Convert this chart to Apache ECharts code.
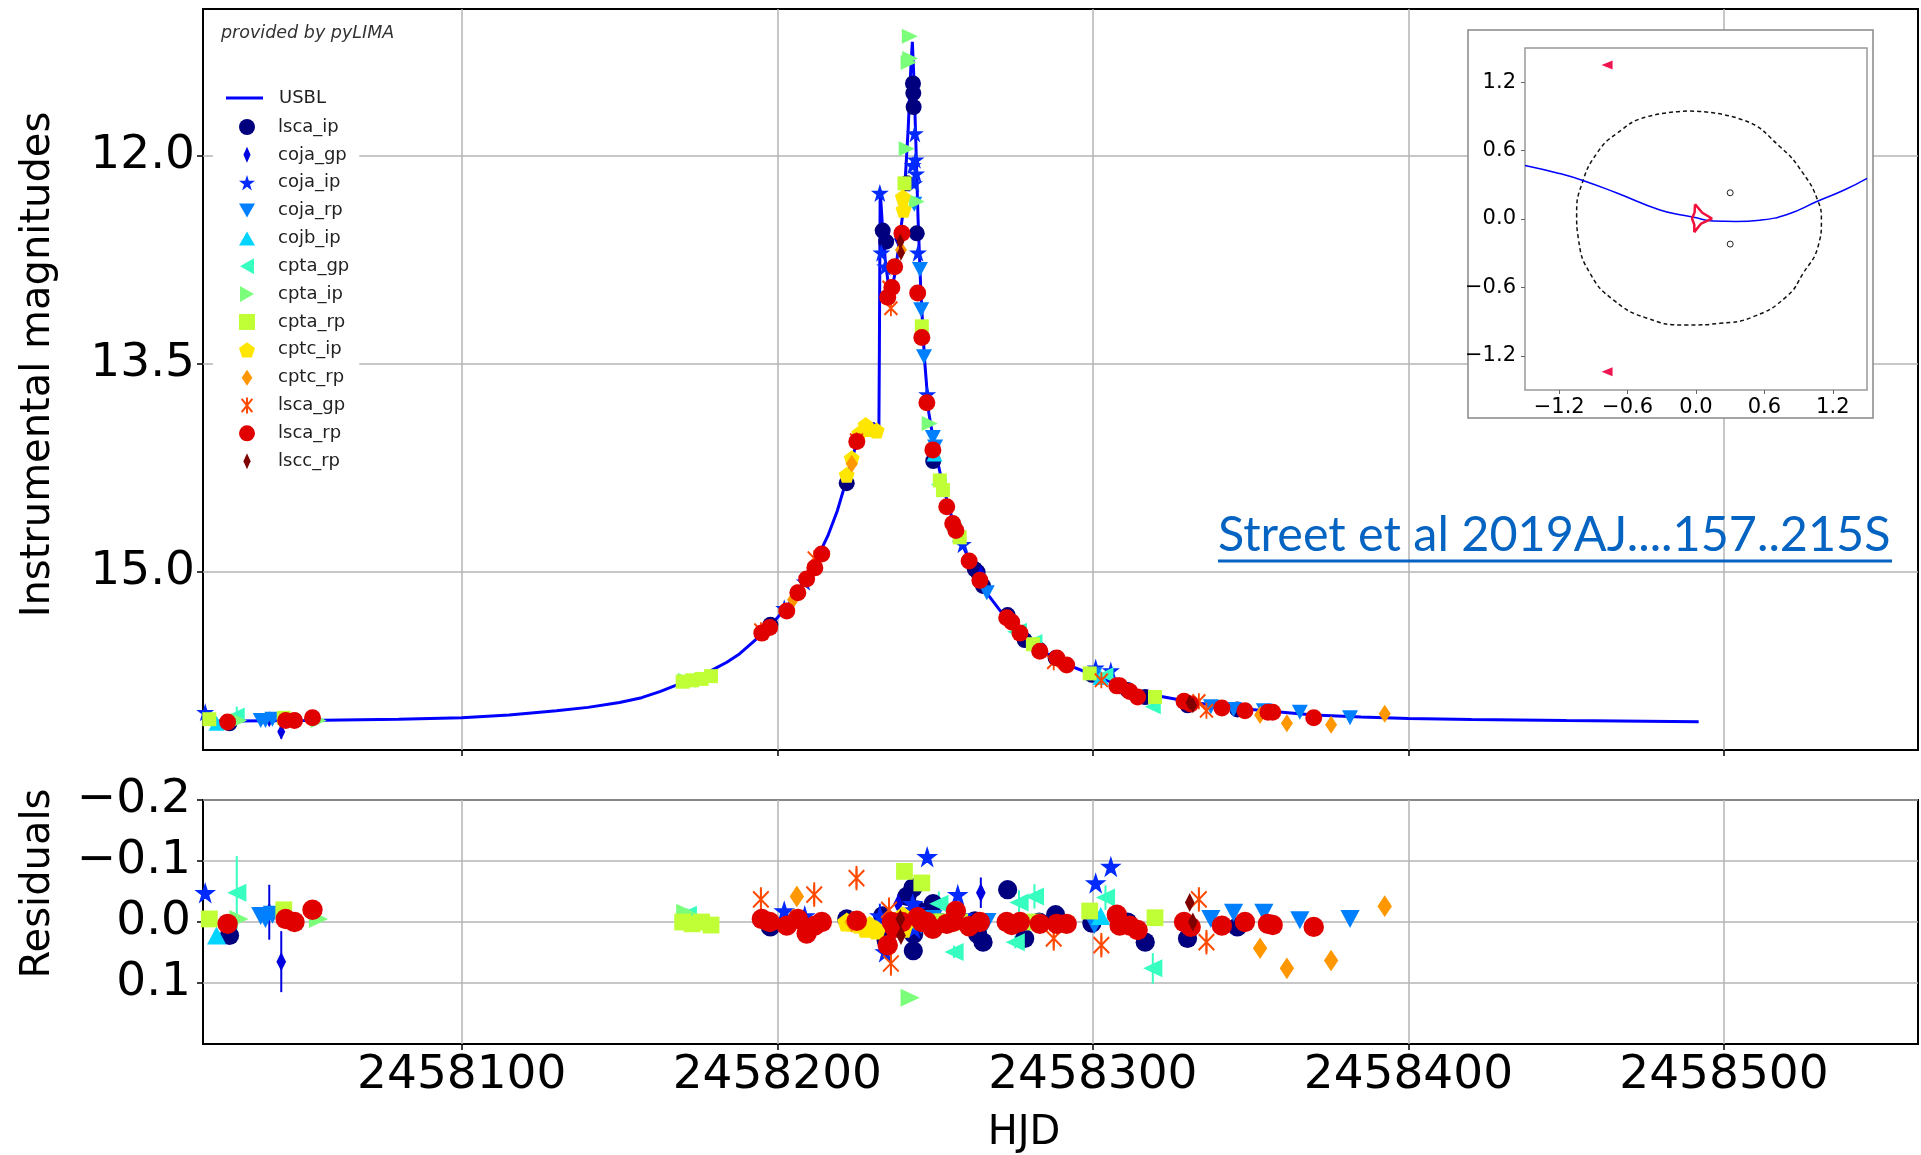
<!DOCTYPE html>
<html><head><meta charset="utf-8">
<script src="https://cdn.jsdelivr.net/npm/echarts@6/dist/echarts.min.js"></script>
<style>html,body{margin:0;padding:0;background:#fff}#c{width:1921px;height:1155px}</style>
</head><body><div id="c"></div>
<script>
// ---------------- DATA ----------------
const xTicks = [2458100, 2458200, 2458300, 2458400, 2458500];
const magTicks = [12.0, 13.5, 15.0];
const resTicks = [-0.2, -0.1, 0.0, 0.1];
const insetTicks = [-1.2, -0.6, 0.0, 0.6, 1.2];

// USBL model light curve
const modelHJD = [2458018, 2458050, 2458080, 2458100, 2458115, 2458130, 2458140, 2458150, 2458157, 2458163, 2458168, 2458173, 2458179, 2458184, 2458188, 2458192, 2458196, 2458200, 2458204, 2458208, 2458212, 2458216, 2458219, 2458222, 2458224.5, 2458226.5, 2458228.5, 2458230.5, 2458232.2, 2458232.35, 2458232.6, 2458233.3, 2458234.2, 2458235.2, 2458236.2, 2458237.3, 2458238.5, 2458239.6, 2458240.6, 2458241.5, 2458242.2, 2458242.8, 2458243.3, 2458243.9, 2458244.6, 2458245.5, 2458246.6, 2458248, 2458250, 2458252.5, 2458255.5, 2458259, 2458263, 2458267, 2458272, 2458278, 2458284, 2458291, 2458300, 2458310, 2458320, 2458332, 2458345, 2458360, 2458370, 2458385, 2458400, 2458420, 2458450, 2458492];
const modelMag = [16.075, 16.07, 16.06, 16.05, 16.03, 16.0, 15.975, 15.94, 15.905, 15.86, 15.815, 15.77, 15.71, 15.65, 15.59, 15.51, 15.43, 15.33, 15.22, 15.08, 14.93, 14.74, 14.56, 14.33, 14.12, 13.99, 13.93, 13.93, 13.96, 13.4, 12.25, 12.5, 12.75, 12.93, 12.97, 12.85, 12.65, 12.45, 12.15, 11.8, 11.42, 11.18, 11.45, 11.9, 12.45, 12.98, 13.45, 13.85, 14.12, 14.38, 14.62, 14.82, 15.02, 15.17, 15.32, 15.47, 15.57, 15.66, 15.74, 15.83, 15.89, 15.94, 15.98, 16.01, 16.03, 16.045, 16.055, 16.063, 16.07, 16.078];

// datasets: [HJD, magnitude, residual, error]
const lsca_ip = [
 [2458026.4,16.09,0.022,0],[2458197.8,15.38,0.008,0],[2458222.0,14.36,-0.005,0],[2458233.4,12.54,-0.010,0],
 [2458234.5,12.62,0.030,0],[2458241.1,12.20,-0.042,0],[2458243.0,11.48,-0.056,0],[2458243.1,11.55,0.047,0],
 [2458243.2,11.65,0.020,0],[2458244.2,12.56,-0.020,0],[2458249.4,14.20,-0.030,0],[2458262.6,14.98,-0.002,0],
 [2458263.5,15.00,0.020,0],[2458265.2,15.10,0.033,0],[2458273.0,15.31,-0.053,0],[2458278.4,15.49,0.027,0],
 [2458283.0,15.56,0.000,0],[2458288.2,15.62,-0.012,0],[2458299.7,15.74,0.002,0],[2458311.0,15.85,0.000,0],
 [2458316.6,15.90,0.033,0],[2458330.0,15.96,0.027,0],[2458345.8,15.99,0.008,0]];
const coja_gp = [
 [2458039.0,16.06,-0.016,0.045],[2458042.8,16.15,0.065,0.05],[2458238.3,12.60,-0.030,0.015],
 [2458256.0,14.68,-0.020,0.015],[2458264.5,15.01,-0.048,0.025]];
const coja_ip = [
 [2458018.7,16.01,-0.048,0.01],[2458202.2,15.26,-0.018,0.01],[2458208.7,15.07,-0.010,0.01],[2458232.5,12.27,-0.010,0.02],
 [2458233.0,12.70,0.000,0.01],[2458234.2,12.80,0.049,0.01],[2458242.9,12.07,-0.030,0.01],[2458243.3,12.20,0.010,0.01],
 [2458243.6,11.84,-0.020,0.01],[2458243.8,12.03,-0.010,0.01],[2458244.0,12.13,0.000,0.01],[2458244.6,12.70,-0.015,0.01],
 [2458247.5,13.72,-0.107,0.01],[2458257.2,14.72,-0.045,0.01],[2458258.8,14.80,-0.010,0.01],[2458300.9,15.69,-0.064,0.01],
 [2458305.7,15.71,-0.091,0.01]];
const coja_rp = [
 [2458036.3,16.07,-0.010,0],[2458037.8,16.07,-0.005,0],[2458040.0,16.06,-0.012,0],[2458243.4,12.35,0.000,0],
 [2458245.2,12.82,0.000,0],[2458245.6,13.11,0.005,0],[2458246.5,13.45,0.000,0],[2458249.3,14.03,-0.005,0],
 [2458250.0,14.10,0.000,0],[2458266.4,15.15,0.000,0],[2458300.5,15.74,0.005,0],[2458337.4,15.97,-0.005,0],
 [2458344.6,15.99,-0.015,0],[2458354.2,16.00,-0.015,0],[2458365.6,16.01,-0.003,0],[2458381.5,16.05,-0.005,0]];
const cojb_ip = [
 [2458022.3,16.09,0.022,0.01],[2458249.8,14.15,0.000,0],[2458302.5,15.76,-0.010,0]];
const cpta_gp = [
 [2458028.7,16.03,-0.048,0.06],[2458171.5,15.78,-0.012,0.01],[2458251.2,14.37,-0.030,0.02],[2458256.0,14.70,0.049,0.01],
 [2458275.4,15.43,0.033,0.01],[2458276.6,15.42,-0.032,0.02],[2458281.5,15.50,-0.042,0.02],[2458304.0,15.74,-0.040,0.02],
 [2458319.0,15.97,0.076,0.025]];
const cpta_ip = [
 [2458029.4,16.07,-0.005,0],[2458054.6,16.07,-0.005,0],[2458171.0,15.78,-0.015,0],[2458241.0,11.95,0.000,0],
 [2458241.6,11.33,0.000,0],[2458242.0,11.14,-0.010,0],[2458242.1,11.30,0.124,0],[2458244.2,12.33,0.000,0],
 [2458248.3,13.93,0.000,0]];
const cpta_rp = [
 [2458020.0,16.06,-0.005,0],[2458043.6,16.05,-0.020,0],[2458170.0,15.79,0.000,0],[2458173.0,15.78,0.003,0],
 [2458176.0,15.77,0.000,0],[2458179.0,15.75,0.005,0],[2458240.3,12.20,-0.083,0],[2458245.8,13.23,-0.064,0],
 [2458251.5,14.34,0.000,0],[2458252.5,14.41,0.000,0],[2458257.8,14.75,0.000,0],[2458281.0,15.52,0.000,0],
 [2458299.0,15.73,-0.018,0],[2458319.7,15.90,-0.007,0]];
const cptc_ip = [
 [2458222.0,14.30,0.000,0],[2458223.6,14.18,0.000,0],[2458226.0,14.00,0.003,0],[2458228.0,13.94,0.010,0],
 [2458229.3,13.97,0.006,0],[2458231.5,13.98,0.013,0],[2458239.8,12.30,-0.010,0],[2458240.0,12.39,0.010,0]];
const cptc_rp = [
 [2458205.0,15.20,-0.005,0.01],[2458206.2,15.15,-0.042,0.015],[2458223.6,14.22,0.000,0.01],[2458239.2,12.68,0.000,0.01],
 [2458353.0,16.03,0.043,0.015],[2458361.5,16.09,0.076,0.015],[2458375.5,16.10,0.063,0.015],[2458392.5,16.02,-0.026,0.015]];
const lsca_gp = [
 [2458194.8,15.42,-0.037,0.02],[2458211.7,14.90,-0.045,0.02],[2458225.1,14.05,-0.072,0.02],[2458235.4,12.95,-0.020,0.02],
 [2458236.0,13.10,0.068,0.02],[2458287.6,15.65,0.027,0.02],[2458302.7,15.78,0.038,0.02],[2458333.6,15.93,-0.037,0.02],
 [2458336.0,16.00,0.033,0.02]];
const lsca_rp = [
 [2458025.8,16.08,0.003,0],[2458044.2,16.07,-0.005,0],[2458047.0,16.07,0.000,0],[2458052.7,16.05,-0.020,0],
 [2458195.1,15.44,-0.005,0],[2458197.6,15.40,0.000,0],[2458203.0,15.28,0.006,0],[2458206.5,15.15,-0.005,0],
 [2458209.3,15.05,0.019,0],[2458211.9,14.97,0.006,0],[2458214.1,14.87,0.000,0],[2458225.2,14.06,-0.002,0],
 [2458235.0,13.02,0.038,0],[2458236.3,12.95,0.000,0],[2458237.2,12.80,0.010,0],[2458239.5,12.56,0.000,0],
 [2458244.5,12.99,-0.008,0],[2458245.8,13.31,0.000,0],[2458247.4,13.78,0.000,0],[2458249.3,14.12,0.011,0],
 [2458253.7,14.53,0.003,0],[2458255.6,14.65,0.000,0],[2458256.6,14.70,-0.018,0],[2458260.8,14.92,0.007,0],
 [2458264.2,15.06,0.000,0],[2458272.7,15.33,0.000,0],[2458274.3,15.36,0.005,0],[2458276.9,15.44,0.000,0],
 [2458283.2,15.57,0.003,0],[2458288.6,15.62,0.003,0],[2458291.7,15.67,0.003,0],[2458307.6,15.82,-0.012,0],
 [2458308.5,15.82,0.006,0],[2458311.7,15.86,0.006,0],[2458314.2,15.90,0.013,0],[2458328.9,15.93,0.000,0],
 [2458331.0,15.95,0.008,0],[2458340.9,15.98,0.006,0],[2458348.2,16.00,0.000,0],[2458355.5,16.01,0.003,0],
 [2458357.0,16.01,0.005,0],[2458370.0,16.05,0.008,0]];
const lscc_rp = [
 [2458239.0,12.62,-0.005,0],[2458239.2,12.70,0.022,0],[2458330.7,15.94,-0.032,0],[2458331.7,15.96,0.000,0]];

const datasetNames = ['lsca_ip','coja_gp','coja_ip','coja_rp','cojb_ip','cpta_gp','cpta_ip','cpta_rp','cptc_ip','cptc_rp','lsca_gp','lsca_rp','lscc_rp'];
const datasets = [lsca_ip, coja_gp, coja_ip, coja_rp, cojb_ip, cpta_gp, cpta_ip, cpta_rp, cptc_ip, cptc_rp, lsca_gp, lsca_rp, lscc_rp];

// inset: source trajectory, caustics, critical curve, lens positions
const trajX = [-1.5, -1.2, -0.986, -0.7, -0.316, -0.1, -0.02, 0.15, 0.35, 0.56, 0.8, 1.07, 1.3, 1.5];
const trajY = [0.47, 0.40, 0.336, 0.23, 0.079, 0.03, 0.015, -0.018, -0.022, -0.01, 0.04, 0.158, 0.254, 0.357];
const causticX = [-0.009, 0.055, 0.14, 0.045, -0.015, -0.015, -0.035, -0.012, -0.009];
const causticY = [0.13, 0.055, 0.004, -0.04, -0.115, -0.05, 0.004, 0.06, 0.13];
const ringX = [-0.05, 0.415, 0.737, 0.94, 1.07, 1.10, 1.07, 0.94, 0.795, 0.503, 0.21, -0.08, -0.43, -0.725, -0.93, -1.03, -1.047, -1.0, -0.87, -0.696, -0.43, -0.05];
const ringY = [0.947, 0.868, 0.634, 0.40, 0.158, -0.01, -0.243, -0.476, -0.68, -0.857, -0.915, -0.93, -0.87, -0.71, -0.476, -0.184, 0.05, 0.31, 0.576, 0.75, 0.897, 0.947];
const planetaryCaustics = [[-0.78, 1.35], [-0.78, -1.34]];
const lensPositions = [[0.30, 0.23], [0.30, -0.22]];

// ---------------- STYLES ----------------
const STAR = 'path://M50,2 L61,37 L98,37 L68,59 L79,95 L50,73 L21,95 L32,59 L2,37 L39,37 Z';
const PENT = 'path://M50,0 L98,35 L79,92 L21,92 L2,35 Z';
const XSTAR = 'path://M1,1 L9,11 M9,1 L1,11 M5,0 L5,12';
const THIN_D = 'path://M4,0 L8,9 L4,18 L0,9 Z';
const FAT_D = 'path://M6,0 L12,9 L6,18 L0,9 Z';
const styles = {
  lsca_ip: {color:'#00007f', symbol:'circle', size:[16,16], icon:'circle'},
  coja_gp: {color:'#0000e0', symbol:'diamond', size:[8,16], icon:THIN_D},
  coja_ip: {color:'#002aff', symbol:STAR, size:[18,18], icon:STAR},
  coja_rp: {color:'#0080ff', symbol:'triangle', size:[16,15], rotate:180, icon:'path://M0,0 L16,0 L8,14 Z'},
  cojb_ip: {color:'#00d4ff', symbol:'triangle', size:[16,15], icon:'path://M8,0 L16,14 L0,14 Z'},
  cpta_gp: {color:'#36ffc0', symbol:'triangle', size:[15,16], rotate:90, icon:'path://M0,8 L14,0 L14,16 Z'},
  cpta_ip: {color:'#7bff7b', symbol:'triangle', size:[15,16], rotate:-90, icon:'path://M14,8 L0,0 L0,16 Z'},
  cpta_rp: {color:'#c0ff36', symbol:'rect', size:[14,14], icon:'path://M0,0 L14,0 L14,14 L0,14 Z'},
  cptc_ip: {color:'#ffe600', symbol:PENT, size:[16,16], icon:PENT},
  cptc_rp: {color:'#ff9700', symbol:'diamond', size:[12,18], icon:FAT_D},
  lsca_gp: {color:'#ff4800', symbol:XSTAR, size:[13,16], stroke:true, icon:XSTAR},
  lsca_rp: {color:'#e00000', symbol:'circle', size:[17,17], icon:'circle'},
  lscc_rp: {color:'#7f0000', symbol:'diamond', size:[8,16], icon:THIN_D}
};
const FONT = 'DejaVu Sans';
const minus = v => String(v).replace('-', '\u2212');
const itemStyleOf = s => s.stroke ? {color:s.color, borderColor:s.color, borderWidth:2, opacity:1} : {color:s.color, opacity:1};

// ---------------- SERIES ----------------
function errRender(params, api) {
  const x = api.value(0), y = api.value(1), e = api.value(2);
  const p1 = api.coord([x, y - e]), p2 = api.coord([x, y + e]);
  return {type:'line', shape:{x1:p1[0], y1:p1[1], x2:p2[0], y2:p2[1]}, style:{stroke: api.visual('color'), lineWidth: 2}};
}
const series = [];
series.push({
  name:'USBL', type:'line', xAxisIndex:0, yAxisIndex:0, symbol:'none', z:2,
  data: modelHJD.map((t,i)=>[t, modelMag[i]]),
  lineStyle:{color:'#0000ff', width:3}, itemStyle:{color:'#0000ff'}
});
datasets.forEach((d, k) => {
  const name = datasetNames[k], s = styles[name];
  const withErr = d.filter(p => p[3] > 0);
  [0, 1].forEach(panel => {
    const sc = panel === 0 ? 1 : 1.2;
    series.push({
      name: name, type:'scatter', xAxisIndex:panel, yAxisIndex:panel, z:4,
      symbol: s.symbol, symbolSize: [s.size[0]*sc, s.size[1]*sc], symbolRotate: s.rotate || 0,
      itemStyle: itemStyleOf(s),
      data: d.map(p => [p[0], panel === 0 ? p[1] : p[2]])
    });
    if (withErr.length) {
      series.push({
        name: name, type:'custom', xAxisIndex:panel, yAxisIndex:panel, z:3,
        renderItem: errRender, itemStyle:{color:s.color},
        data: withErr.map(p => [p[0], panel === 0 ? p[1] : p[2], p[3]])
      });
    }
  });
});
// inset series
series.push({type:'line', xAxisIndex:2, yAxisIndex:2, symbol:'none', z:11, silent:true,
  data: ringX.map((x,i)=>[x, ringY[i]]), smooth:true,
  lineStyle:{color:'#111', width:1.5, type:[4,3]}});
series.push({type:'line', xAxisIndex:2, yAxisIndex:2, symbol:'none', z:12, silent:true,
  data: trajX.map((x,i)=>[x, trajY[i]]), smooth:true,
  lineStyle:{color:'#0000ff', width:1.5}});
series.push({type:'line', xAxisIndex:2, yAxisIndex:2, symbol:'none', z:13, silent:true,
  data: causticX.map((x,i)=>[x, causticY[i]]),
  lineStyle:{color:'#f0103a', width:2.5}});
series.push({type:'scatter', xAxisIndex:2, yAxisIndex:2, z:13, silent:true,
  symbol:'triangle', symbolRotate:90, symbolSize:[9,11],
  itemStyle:{color:'#ee1550', opacity:1}, data: planetaryCaustics});
series.push({type:'scatter', xAxisIndex:2, yAxisIndex:2, z:13, silent:true,
  symbol:'circle', symbolSize:6,
  itemStyle:{color:'#fff', borderColor:'#222', borderWidth:1, opacity:1}, data: lensPositions});

// ---------------- AXES ----------------
const tickLabel = {fontFamily:FONT, fontSize:47, color:'#000'};
const xBase = (grid, showLabels) => ({
  type:'value', gridIndex:grid, min:2458018, max:2458561.5,
  axisLine:{show:false, onZero:false},
  axisTick:{show:true, customValues:xTicks, length:6, lineStyle:{color:'#000', width:1.5}},
  axisLabel:Object.assign({show:showLabels, customValues:xTicks, margin:8, formatter:v=>String(v)}, tickLabel),
  splitLine:{show:true, lineStyle:{color:'#b5b5b5', width:1.5}}
});
const xAxes = [xBase(0,false), Object.assign(xBase(1,true), {
  name:'HJD', nameLocation:'middle', nameGap:70,
  nameTextStyle:{fontFamily:FONT, fontSize:40, color:'#000', padding:[0,73,0,0]}
}), {
  type:'value', gridIndex:2, min:-1.5, max:1.5, z:10,
  axisLine:{show:false, onZero:false},
  axisTick:{show:true, customValues:insetTicks, length:4, lineStyle:{color:'#666'}},
  axisLabel:{customValues:insetTicks, margin:7, fontFamily:FONT, fontSize:21, color:'#000', formatter:v=>minus(v.toFixed(1))},
  splitLine:{show:false}
}];
const yAxes = [{
  type:'value', gridIndex:0, inverse:true, min:10.944, max:16.282,
  axisLine:{show:false, onZero:false},
  axisTick:{show:true, customValues:magTicks, length:6, lineStyle:{color:'#000', width:1.5}},
  axisLabel:Object.assign({customValues:magTicks, margin:8, formatter:v=>v.toFixed(1)}, tickLabel),
  splitLine:{show:true, lineStyle:{color:'#b5b5b5', width:1.5}},
  name:'Instrumental magnitudes', nameLocation:'middle', nameGap:144,
  nameTextStyle:{fontFamily:FONT, fontSize:40, color:'#000', padding:[0,0,0,30]}
}, {
  type:'value', gridIndex:1, inverse:true, min:-0.2, max:0.2,
  axisLine:{show:false, onZero:false},
  axisTick:{show:true, customValues:resTicks, length:6, lineStyle:{color:'#000', width:1.5}},
  axisLabel:Object.assign({customValues:resTicks, margin:12, formatter:v=>minus(v.toFixed(1))}, tickLabel),
  splitLine:{show:true, lineStyle:{color:'#b5b5b5', width:1.5}},
  name:'Residuals', nameLocation:'middle', nameGap:144,
  nameTextStyle:{fontFamily:FONT, fontSize:40, color:'#000', padding:[0,0,0,77]}
}, {
  type:'value', gridIndex:2, min:-1.5, max:1.5, z:10,
  axisLine:{show:false, onZero:false},
  axisTick:{show:true, customValues:insetTicks, length:4, lineStyle:{color:'#666'}},
  axisLabel:{customValues:insetTicks, margin:9, fontFamily:FONT, fontSize:21, color:'#000', formatter:v=>minus(v.toFixed(1))},
  splitLine:{show:false}
}];

// ---------------- CHART ----------------
const chart = echarts.init(document.getElementById('c'), null, {renderer:'canvas'});
chart.setOption({
  animation:false,
  backgroundColor:'#fff',
  grid:[
    {left:203, top:9, width:1715, height:741, show:true, borderColor:'#000', borderWidth:2, backgroundColor:'transparent'},
    {left:203, top:800, width:1715, height:247, show:true, borderColor:'#000', borderWidth:2, backgroundColor:'transparent'},
    {left:1525, top:48, width:342, height:342, show:true, borderColor:'#999', borderWidth:1.5, backgroundColor:'#fff', z:6}
  ],
  xAxis: xAxes,
  yAxis: yAxes,
  legend:[
    {data:[{name:'USBL', icon:'rect', itemStyle:{color:'#0000ff'}}], left:226, top:89, padding:0, itemWidth:37, itemHeight:3,
     textStyle:{fontFamily:FONT, fontSize:18, color:'#222', padding:[0,0,0,11]}},
    {data:datasetNames.map(n => ({name:n, icon:styles[n].icon, symbolRotate:0, itemStyle:itemStyleOf(styles[n])})),
     orient:'vertical', left:213, top:110, padding:[8,10,8,26],
     itemWidth:16, itemHeight:16, itemGap:9.85, backgroundColor:'#fff',
     textStyle:{fontFamily:FONT, fontSize:18, color:'#222', padding:[0,0,0,18]}}
  ],
  graphic:[
    {type:'rect', z:5, silent:true, shape:{x:1468, y:30, width:405, height:388},
     style:{fill:'#fff', stroke:'#888', lineWidth:1.5}},
    {type:'text', z:10, x:221, y:33, silent:true,
     style:{text:'provided by pyLIMA', fontFamily:FONT, fontStyle:'italic', fontSize:17.5, fill:'#333', textVerticalAlign:'middle'}},
    {type:'text', z:10, x:1218, y:535, silent:true,
     style:{text:'Street et al 2019AJ....157..215S', fontFamily:'Lato', fontSize:48.5, fill:'#0563c1', textVerticalAlign:'middle'}},
    {type:'line', z:10, silent:true, shape:{x1:1218, y1:561, x2:1892, y2:561},
     style:{stroke:'#0563c1', lineWidth:3}}
  ],
  series: series
});
</script></body></html>
